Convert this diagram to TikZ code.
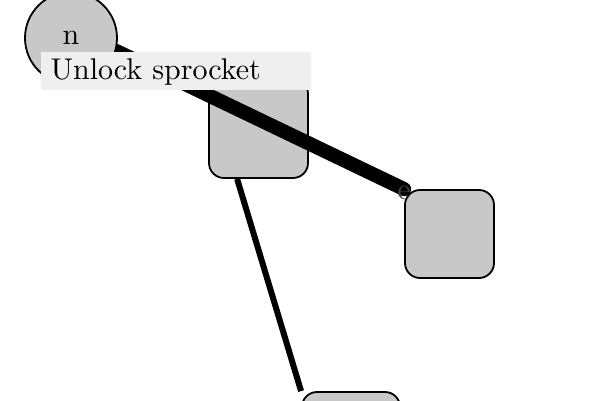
\documentclass[tikz,border=0pt]{standalone}
\usepackage{xcolor}
\definecolor{nodegray}{HTML}{C8C8C8}
\definecolor{labelgray}{HTML}{EFEFEF}
\definecolor{tagtext}{HTML}{404040}
\pgfdeclarelayer{bg}
\pgfdeclarelayer{edges}
\pgfsetlayers{bg,edges,main}
\begin{document}
\begin{tikzpicture}[x=0.3333pt,y=-0.3333pt,
  bignode/.style={draw=black,line width=0.6pt,fill=nodegray},
  boxnode/.style={bignode,rectangle,rounded corners=5pt,inner sep=0pt},
  roundnode/.style={bignode,circle,inner sep=0pt,minimum size=30.67pt},
  heavyedge/.style={line width=4.7pt,line cap=round},
  thinedge/.style={line width=2pt},
  edgetag/.style={text=tagtext,inner sep=0pt},
  banner/.style={fill=labelgray,text width=83.33pt,align=left,inner xsep=3.33pt,inner ysep=1.67pt,text height=7.67pt,text depth=1.67pt}
]
\useasboundingbox (0,0) rectangle (600,400);
\clip (0,0) rectangle (600,400);
\node[roundnode] (n) at (71,38) {n};
\begin{pgfonlayer}{bg}
\node[boxnode,minimum width=33pt,minimum height=33pt] (A) at (258.5,128.5) {};
\node[boxnode,minimum width=29.67pt,minimum height=29.33pt] (B) at (449.5,234) {};
\node[boxnode,minimum width=32.67pt,minimum height=32.67pt] (C) at (351,441) {};
\end{pgfonlayer}
\begin{pgfonlayer}{edges}
\draw[heavyedge] (n.-16) -- (B.north west) node[edgetag,pos=1,yshift=-1.2pt] (etag) {e};
\draw[thinedge] (A.247.5) -- (C.north west);
\end{pgfonlayer}
\node[banner,anchor=north west] (lbl) at (40,51) {Unlock sprocket};
\end{tikzpicture}
\end{document}
